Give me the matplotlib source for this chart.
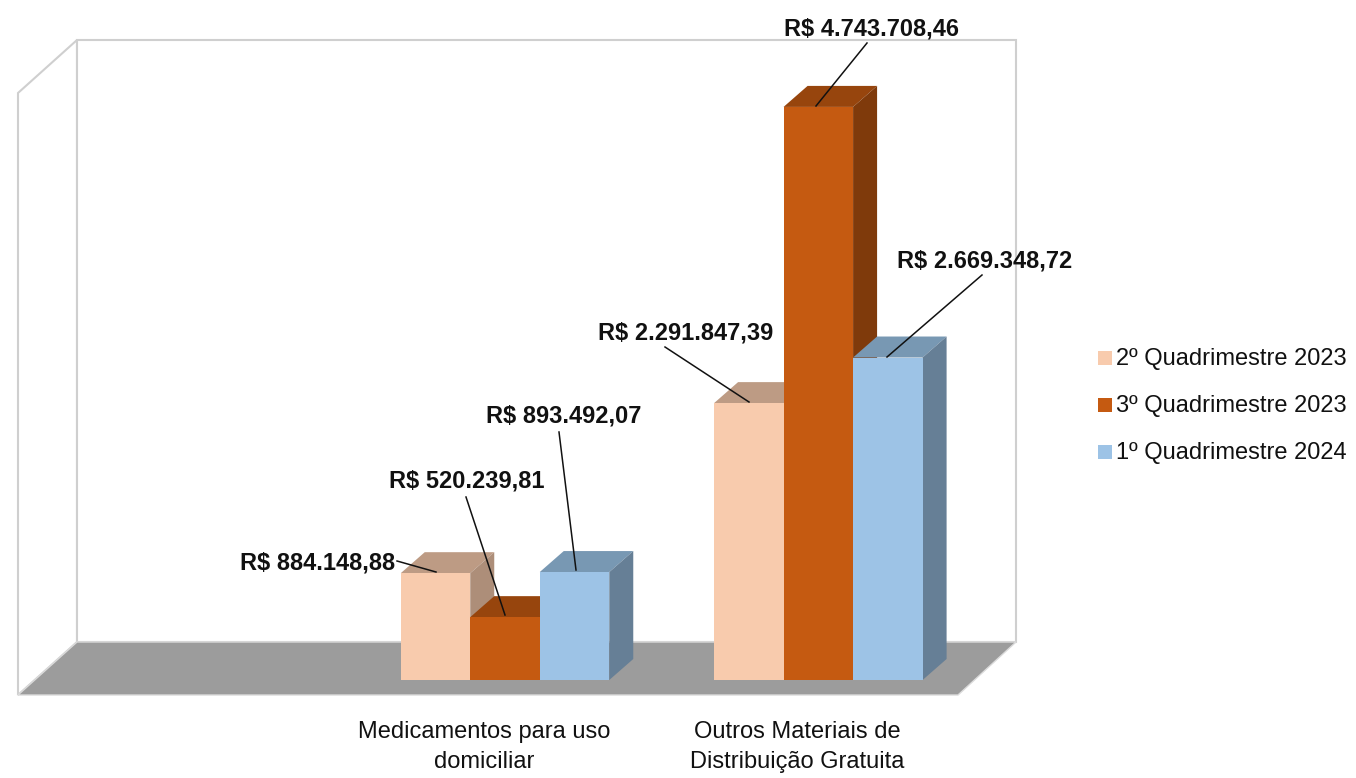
import matplotlib
matplotlib.use('Agg')
import matplotlib.pyplot as plt
from matplotlib.patches import Polygon, Rectangle

categorias = ['', 'Medicamentos para uso\ndomiciliar', 'Outros Materiais de\nDistribuição Gratuita']
series = ['2º Quadrimestre 2023', '3º Quadrimestre 2023', '1º Quadrimestre 2024']
valores_2023_2 = [None, 884148.88, 2291847.39]
valores_2023_3 = [None, 520239.81, 4743708.46]
valores_2024_1 = [None, 893492.07, 2669348.72]
rotulos = [['', 'R$ 884.148,88', 'R$ 2.291.847,39'],
           ['', 'R$ 520.239,81', 'R$ 4.743.708,46'],
           ['', 'R$ 893.492,07', 'R$ 2.669.348,72']]
cores = ['#F8CBAD', '#C55A11', '#9DC3E6']
cores_topo = ['#BD9B84', '#97450D', '#7898B3']
cores_lado = ['#AD8E79', '#7F3A0B', '#667F96']

W, H = 1356, 778
FONTE = ['Liberation Sans', 'DejaVu Sans']

fig = plt.figure(figsize=(W / 100, H / 100), dpi=100)
# plano das barras: 35..975 px na horizontal, base em y=680
ax = fig.add_axes([35 / W, 1 - 680 / H, 940 / W, 602 / H])
ax.set_xlim(-0.5, 2.5)
ax.set_ylim(0, 4983000)
ax.axis('off')
ax.patch.set_alpha(0)

fig.canvas.draw()
# paredes e chao em pixels da figura
paredes = [
    [(18, 93), (77, 40), (77, 642), (18, 695)],
    [(77, 40), (1016, 40), (1016, 642), (77, 642)],
]
for pts in paredes:
    fig.add_artist(Polygon([(x / W, 1 - y / H) for x, y in pts], closed=True, fc='white',
                           ec='#CFCFCF', lw=1.5, transform=fig.transFigure, zorder=0))
fig.add_artist(Polygon([(x / W, 1 - y / H) for x, y in [(18, 695), (77, 642), (1016, 642), (958, 695)]],
                       closed=True, fc='#9C9C9C', ec='#DADADA', lw=1.0,
                       transform=fig.transFigure, zorder=0))

largura = 69.5 / 313.3
dados = [valores_2023_2, valores_2023_3, valores_2024_1]
dx_px, dy_px = 24, 21
for s in range(3):
    xs = [i + (s - 1) * largura for i in range(3)]
    ys = [0 if v is None else v for v in dados[s]]
    ax.bar(xs, ys, width=largura, color=cores[s], zorder=3 + s * 2, label=series[s])
    for x, y in zip(xs, ys):
        if y == 0:
            continue
        esq = ax.transData.transform((x - largura / 2, y))
        dir_ = ax.transData.transform((x + largura / 2, y))
        base = ax.transData.transform((x + largura / 2, 0))
        topo = [esq, dir_, dir_ + (dx_px, dy_px), esq + (dx_px, dy_px)]
        lado = [dir_, dir_ + (dx_px, dy_px), base + (dx_px, dy_px), base]
        ax.add_patch(Polygon(topo, closed=True, fc=cores_topo[s], ec='none', transform=None, zorder=2 + s * 2))
        ax.add_patch(Polygon(lado, closed=True, fc=cores_lado[s], ec='none', transform=None, zorder=2 + s * 2))

# rotulos com linha de chamada: texto (px) e ponta da linha (px)
pos_rotulos = {
    (0, 1): ((318, 563), (397, 561), (436, 572)),
    (1, 1): ((467, 481), (466, 497), (505, 615)),
    (2, 1): ((564, 416), (559, 432), (576, 570)),
    (0, 2): ((686, 333), (665, 347), (749, 402)),
    (1, 2): ((871, 29), (867, 43), (816, 106)),
    (2, 2): ((985, 261), (982, 275), (887, 357)),
}
for (s, i), (t, a, b) in pos_rotulos.items():
    ax.plot([a[0], b[0]], [H - a[1], H - b[1]], color='#111111', lw=1.1, transform=None,
            zorder=20, clip_on=False)
    fig.text(t[0] / W, 1 - t[1] / H, rotulos[s][i], family=FONTE, weight='bold', fontsize=17,
             ha='center', va='center', color='#111111', zorder=30)

for i in (1, 2):
    x_c = ax.transData.transform((i, 0))[0]
    for k, linha in enumerate(categorias[i].split('\n')):
        fig.text((x_c - 21) / W, 1 - (732 + k * 30) / H, linha, family=FONTE, fontsize=17,
                 ha='center', va='center', color='#111111')

for s, y in enumerate((358, 405, 452)):
    fig.add_artist(Rectangle((1098 / W, 1 - (y + 7) / H), 14 / W, 14 / H, fc=cores[s], ec='none',
                             transform=fig.transFigure))
    fig.text(1116 / W, 1 - (y + 1) / H, series[s], family=FONTE, fontsize=17, ha='left', va='center',
             color='#111111')

fig.savefig('out.png', dpi=100)
